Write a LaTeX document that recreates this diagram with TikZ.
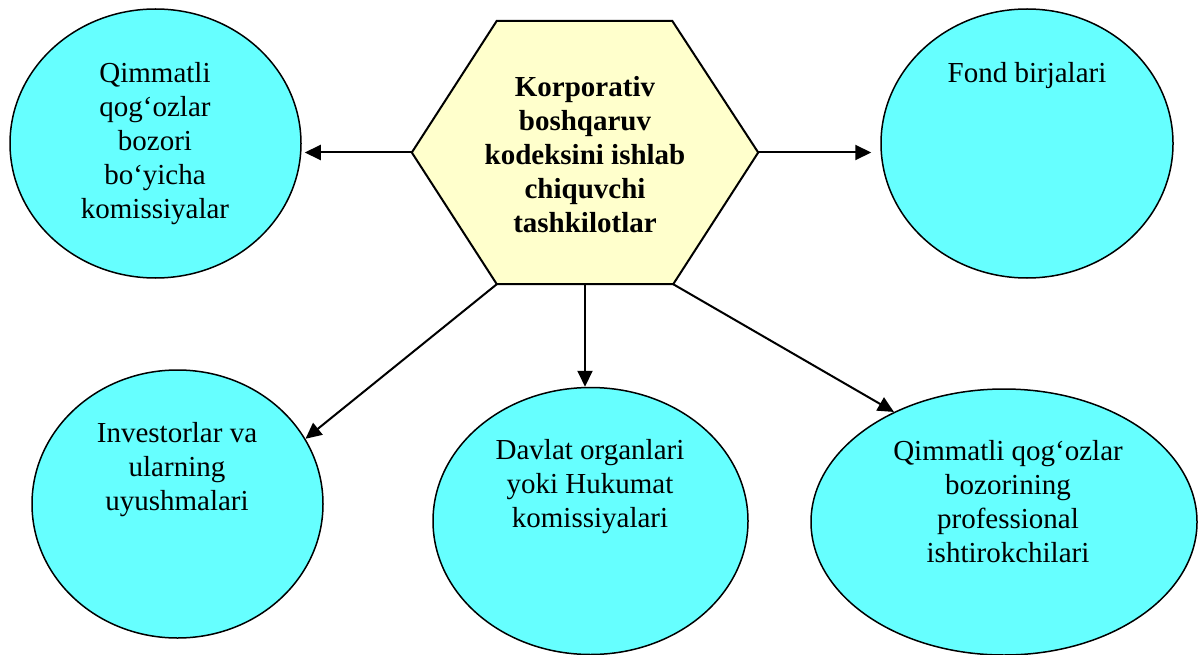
\documentclass[tikz,border=0pt]{standalone}
\usepackage{fontspec}
\setmainfont{Liberation Serif}
\usetikzlibrary{shapes.geometric,arrows.meta,backgrounds}
\definecolor{cyanfill}{HTML}{66FFFF}
\definecolor{hexfill}{HTML}{FFFFCC}
\begin{document}
\begin{tikzpicture}[x=1pt,y=-1pt,
  oval/.style={ellipse, draw=black, line width=1.5pt, fill=cyanfill, inner sep=0pt},
  lbl/.style={align=center, font=\fontsize{29}{34}\selectfont, inner sep=0pt, anchor=north},
  hexlbl/.style={align=center, font=\bfseries\fontsize{29}{34}\selectfont, inner sep=0pt,
    minimum width=346pt, minimum height=263pt},
  hexline/.style={draw=black, line width=2pt, fill=hexfill, line join=miter},
  arr/.style={-{Triangle[length=16pt,width=15pt]}, line width=2pt}]
\useasboundingbox (0,0) rectangle (1198,655);
% ellipses
\node[oval, minimum width=291pt, minimum height=269pt] (e1) at (155.5,143.5) {};
\node[oval, minimum width=292pt, minimum height=269pt] (e2) at (1027,143.5) {};
\node[oval, minimum width=291pt, minimum height=268pt] (e3) at (177.5,504) {};
\node[oval, minimum width=315pt, minimum height=267pt] (e4) at (590.5,521) {};
\node[oval, minimum width=386pt, minimum height=266pt] (e5) at (1004,522) {};
% texts
\node[lbl] (t1) at (155,62) {Qimmatli\\qog‘ozlar\\bozori\\bo‘yicha\\komissiyalar};
\node[lbl] (t2) at (1027,62) {Fond birjalari};
\node[lbl] (t3) at (177,422) {Investorlar va\\ularning\\uyushmalari};
\node[lbl] (t4) at (590,439) {Davlat organlari\\yoki Hukumat\\komissiyalari};
\node[lbl] (t5) at (1008,440) {Qimmatli qog‘ozlar\\bozorining\\professional\\ishtirokchilari};
% hexagon
\node[hexlbl] (hex) at (585,154.5) {Korporativ\\boshqaruv\\kodeksini ishlab\\chiquvchi\\tashkilotlar};
\begin{scope}[on background layer]
\path[hexline] ([yshift=2pt]hex.west) -- ([xshift=85pt,yshift=2pt]hex.north west)
  -- ([xshift=-86pt,yshift=2pt]hex.north east) -- ([yshift=2pt]hex.east)
  -- ([xshift=-85pt,yshift=2pt]hex.south east) -- ([xshift=85pt,yshift=2pt]hex.south west) -- cycle;
\end{scope}
% connectors
\draw[arr, shorten >=3pt] ([yshift=2pt]hex.west) -- ([yshift=2pt]hex.west -| e1.east);
\draw[arr, shorten >=9pt] ([yshift=2pt]hex.east) -- ([yshift=2pt]hex.east -| e2.west);
\draw[arr] ([xshift=85pt,yshift=2pt]hex.south west) -- (e3.27);
\draw[arr] ([yshift=2pt]hex.south) -- (hex.south |- e4.north);
\draw[arr] ([xshift=-85pt,yshift=2pt]hex.south east) -- (e5.135);
\end{tikzpicture}
\end{document}
